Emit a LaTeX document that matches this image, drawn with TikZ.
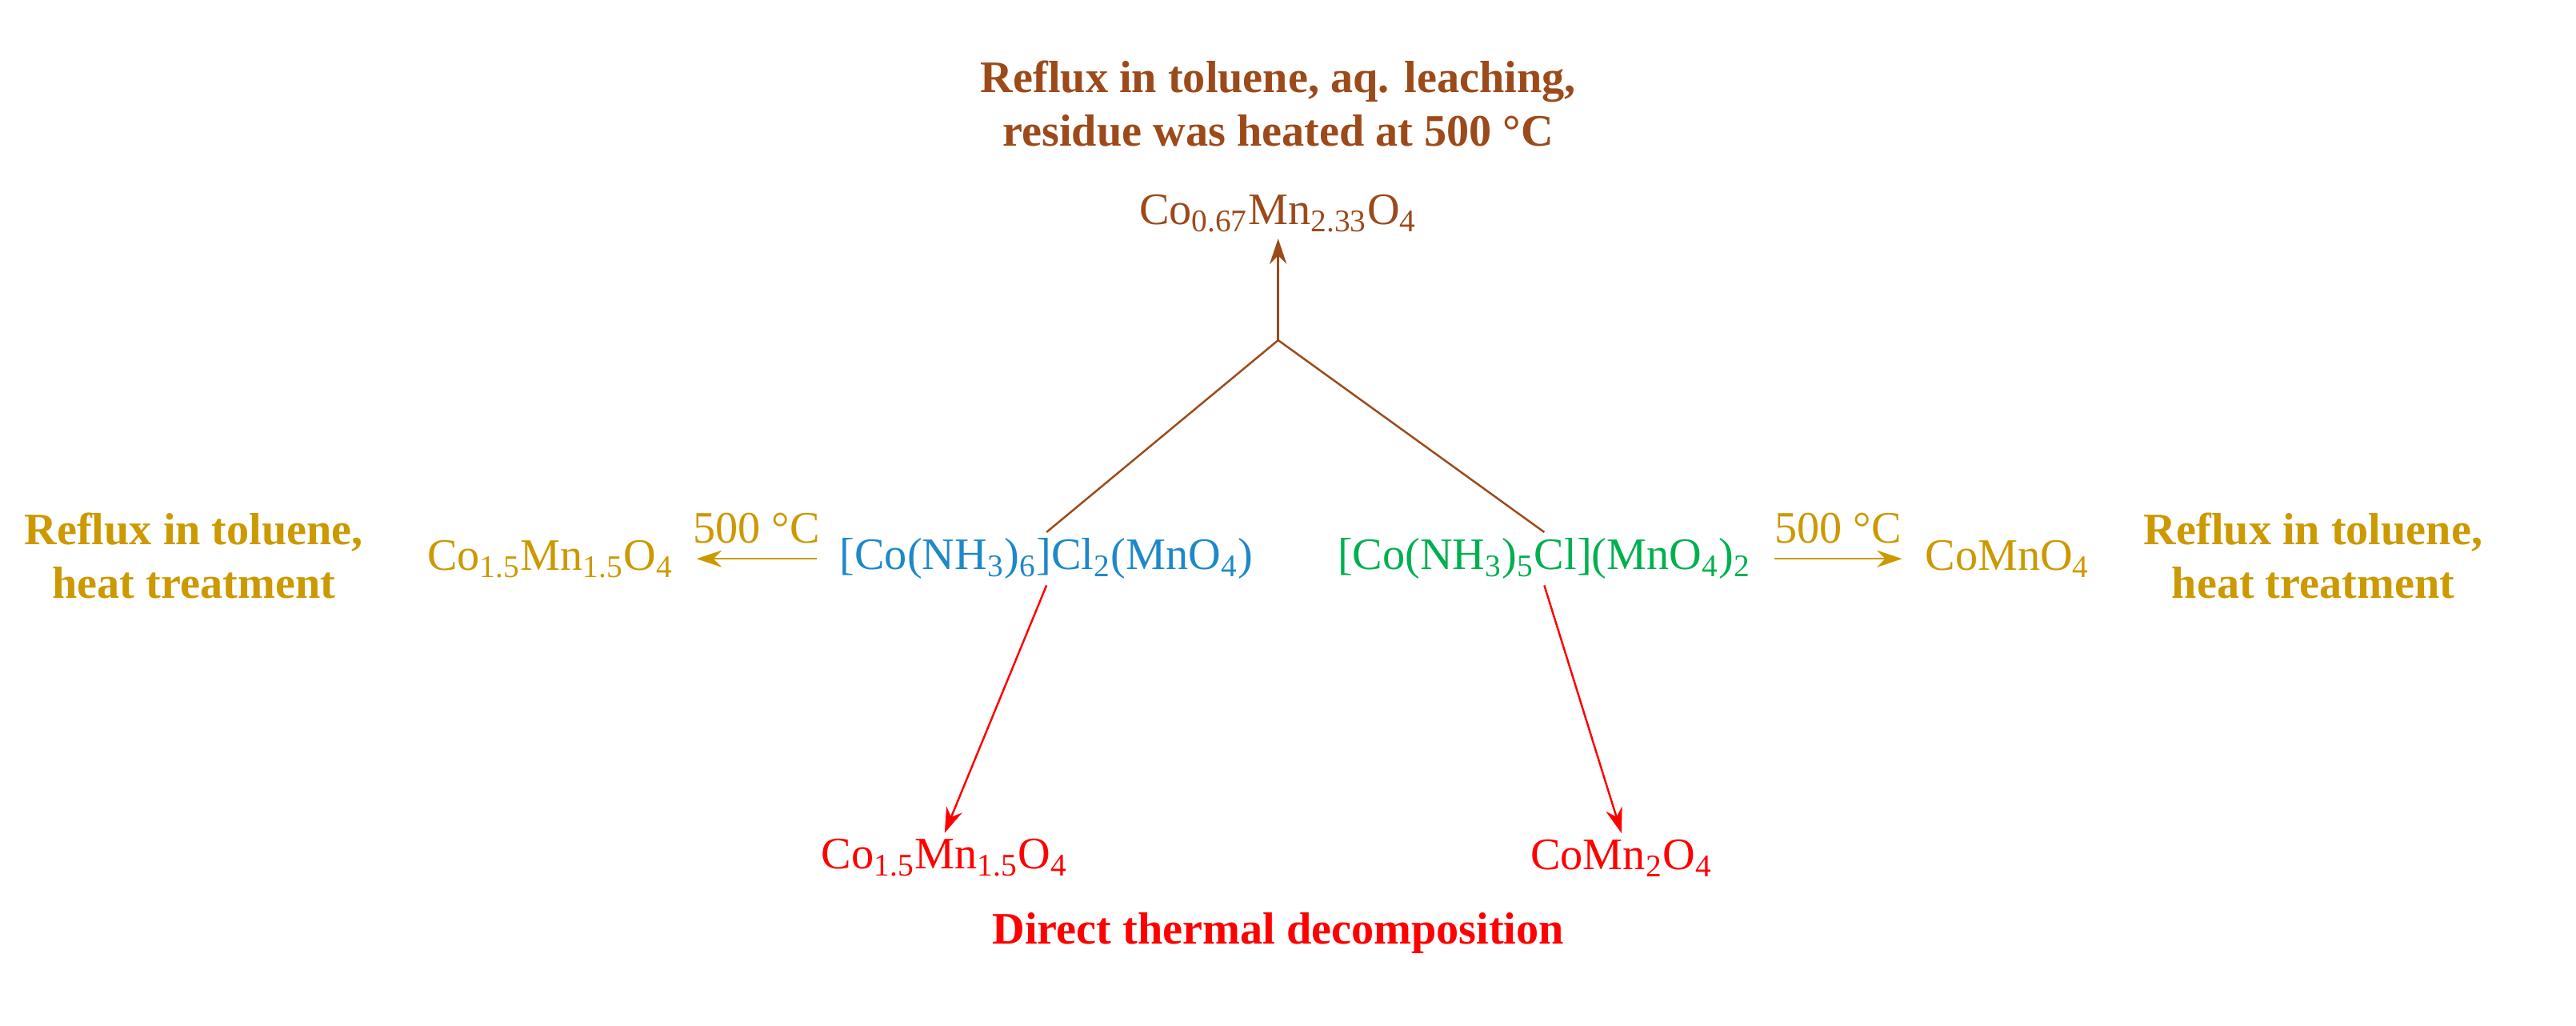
\documentclass[tikz,border=0pt]{standalone}
\usepackage{fontspec}
\setmainfont{Liberation Serif}
\usetikzlibrary{arrows.meta}
\definecolor{brn}{RGB}{156,74,26}
\definecolor{gld}{RGB}{204,153,0}
\definecolor{blu}{RGB}{30,136,200}
\definecolor{grn}{RGB}{0,176,80}
\definecolor{rd}{RGB}{255,0,0}
\newcommand{\ssb}[1]{\textsubscript{#1}}
\begin{document}
\begin{tikzpicture}[x=0.02054cm,y=-0.02054cm,
  txt/.style={font=\fontsize{16}{19}\selectfont,inner sep=2pt},
  bt/.style={font=\fontsize{16}{19}\selectfont\bfseries,align=center,inner sep=2pt},
  arr/.style={-{Stealth[length=9pt,width=6pt]},line width=0.7pt}]
\useasboundingbox (0,0) rectangle (1568,624);
\node[bt,brn] (t1) at (778,63) {Reflux in toluene, aq. leaching,\\residue was heated at 500 °C};
\node[txt,brn] (p0) at (778,130) {Co\ssb{0.67}Mn\ssb{2.33}O\ssb{4}};
\coordinate (j) at (778,207);
\node[txt,blu] (c1) at (637,340) {[Co(NH\ssb{3})\ssb{6}]Cl\ssb{2}(MnO\ssb{4})};
\node[txt,grn] (c2) at (940,340) {[Co(NH\ssb{3})\ssb{5}Cl](MnO\ssb{4})\ssb{2}};
\node[txt,gld] (pl) at (335,340) {Co\ssb{1.5}Mn\ssb{1.5}O\ssb{4}};
\node[txt,gld] (pr) at (1222,340) {CoMnO\ssb{4}};
\node[bt,gld] (tl) at (118,338) {Reflux in toluene,\\heat treatment};
\node[bt,gld] (tr) at (1408,338) {Reflux in toluene,\\heat treatment};
\node[txt,rd] (b1) at (575,522) {Co\ssb{1.5}Mn\ssb{1.5}O\ssb{4}};
\node[txt,rd] (b2) at (987,522) {CoMn\ssb{2}O\ssb{4}};
\node[bt,rd] (td) at (778,568) {Direct thermal decomposition};
\draw[brn,line width=0.7pt] (c1.north) -- (j) -- (c2.north);
\draw[brn,arr] (j) -- (p0.south);
\draw[gld,arr] ([xshift=-6pt]c1.west) -- ([xshift=6pt]pl.east) node[midway,above=3pt,txt] {500 °C};
\draw[gld,arr] ([xshift=6pt]c2.east) -- ([xshift=-6pt]pr.west) node[midway,above=3pt,txt] {500 °C};
\draw[rd,arr] (c1.south) -- (b1.north);
\draw[rd,arr] (c2.south) -- (b2.north);
\end{tikzpicture}
\end{document}
